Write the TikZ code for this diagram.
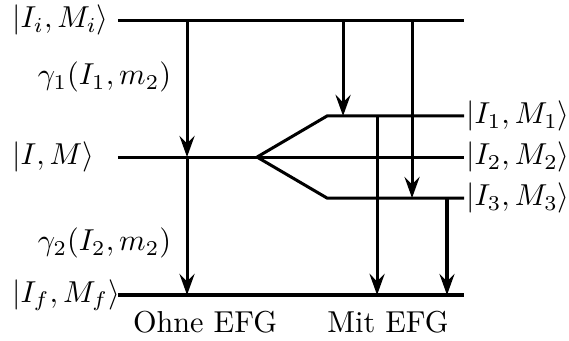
\documentclass[tikz,border=0pt]{standalone}
\usepackage{tikz}
\usetikzlibrary{arrows.meta}

\begin{document}
\begin{tikzpicture}[
    level_line/.style={line width=1pt, draw=black},
    trans_arrow/.style={line width=1pt, draw=black, -{Stealth[length=7pt, width=5pt, inset=2.5pt]}},
    state_label/.style={inner sep=1pt},
    gamma_label/.style={inner sep=1pt, anchor=east}
]
    \useasboundingbox (0, 0) rectangle (6.608, 3.949);

    % Level end points
    \coordinate (lvl_i) at (1.37, 3.716);
    \coordinate (lvl_m) at (1.37, 2.125);
    \coordinate (lvl_f) at (1.37, 0.523);
    \coordinate (apex) at (2.985, 2.125);
    \coordinate (split1) at (3.798, 2.602);
    \coordinate (split3) at (3.798, 1.649);
    \coordinate (end_i) at (5.389, 3.716);
    \coordinate (end1) at (5.389, 2.602);
    \coordinate (end2) at (5.389, 2.125);
    \coordinate (end3) at (5.389, 1.649);
    \coordinate (end_f) at (5.389, 0.523);

    % Columns of the transitions
    \coordinate (col_a) at (2.172, 0);
    \coordinate (col_b) at (3.984, 0);
    \coordinate (col_c) at (4.379, 0);
    \coordinate (col_d) at (4.785, 0);
    \coordinate (col_e) at (5.191, 0);

    % Levels
    \draw [level_line] (lvl_i) -- (end_i);
    \draw [level_line] (lvl_m) -- (apex) -- (end2);
    \draw [level_line] (apex) -- (split1) -- (end1);
    \draw [level_line] (apex) -- (split3) -- (end3);
    \draw [level_line] (lvl_f) -- (end_f);

    % State labels
    \node (lbl_i) [state_label, anchor=west] at (0.1, 3.716) {$|I_i, M_i\rangle$};
    \node (lbl_m) [state_label, anchor=west] at (0.1, 2.125) {$|I, M\rangle$};
    \node (lbl_f) [state_label, anchor=west] at (0.1, 0.523) {$|I_f, M_f\rangle$};
    \node (lbl_1) [state_label, inner sep=0.5pt, anchor=west] at (end1) {$|I_1, M_1\rangle$};
    \node (lbl_2) [state_label, inner sep=0.5pt, anchor=west] at (end2) {$|I_2, M_2\rangle$};
    \node (lbl_3) [state_label, inner sep=0.5pt, anchor=west] at (end3) {$|I_3, M_3\rangle$};

    % Transitions without EFG
    \draw [trans_arrow] (col_a |- lvl_i) -- (col_a |- lvl_m);
    \draw [trans_arrow] (col_a |- lvl_m) -- (col_a |- lvl_f);
    \node (gamma1) [gamma_label] at (2.03, 3.054) {$\gamma_1(I_1, m_2)$};
    \node (gamma2) [gamma_label] at (2.03, 1.127) {$\gamma_2(I_2, m_2)$};

    % Transitions with EFG
    \draw [trans_arrow] (col_b |- lvl_i) -- (col_b |- split1);
    \draw [trans_arrow] (col_d |- lvl_i) -- (col_d |- split3);
    \draw [trans_arrow] (col_c |- split1) -- (col_c |- lvl_f);
    \draw [trans_arrow] (col_e |- split3) -- (col_e |- lvl_f);

    \node (ohne) at (2.381, 0.209) {Ohne EFG};
    \node (mit) at (4.506, 0.209) {Mit EFG};
\end{tikzpicture}
\end{document}
